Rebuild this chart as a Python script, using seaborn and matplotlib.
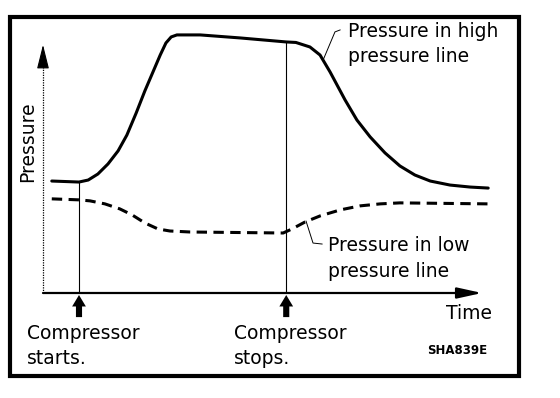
import matplotlib
matplotlib.use('Agg')
import matplotlib.pyplot as plt
import matplotlib.patches as patches
import pandas as pd
import seaborn as sns

# Curves (time 0..100 along the axis, pressure 0..100 up the axis)
high_time = [2.0, 8.2, 10.3, 12.5, 14.8, 17.1, 19.1, 21.2, 23.2, 26.7, 28.0, 29.2, 30.5,
             35.8, 44.9, 55.4, 57.6, 60.8, 63.1, 65.4, 68.8, 71.5, 74.5, 77.9,
             81.3, 84.7, 88.2, 92.7, 97.3, 101.4]
high_pressure = [44.6, 44.2, 45.0, 47.4, 51.4, 56.6, 62.9, 71.6, 80.5, 94.8, 99.6, 102.0, 102.8,
                 102.8, 101.6, 100.0, 99.8, 98.0, 94.8, 88.0, 76.9, 68.9, 62.2, 55.8,
                 50.6, 47.0, 44.6, 43.0, 42.2, 41.8]

low_time = [2.0, 8.2, 10.7, 14.1, 17.5, 20.3, 23.2, 26.2, 28.9, 33.5, 54.7, 56.7,
            59.7, 63.1, 67.7, 72.2, 76.8, 81.3, 101.4]
low_pressure = [37.5, 37.1, 36.7, 35.5, 33.5, 31.1, 27.9, 25.5, 24.7, 24.3, 23.9, 25.5,
                28.3, 30.7, 33.1, 34.7, 35.5, 35.9, 35.5]

# Compressor events
event_time = [8.2, 55.4]
event_labels = ['Compressor\nstarts.', 'Compressor\nstops.']
event_pressure = [44.2, 100.0]  # where the marker line meets the high curve

df_high = pd.DataFrame({'time': high_time, 'pressure': high_pressure})
df_low = pd.DataFrame({'time': low_time, 'pressure': low_pressure})

sns.set_style('white')
plt.rcParams['font.family'] = ['DejaVu Sans']
plt.rcParams['text.color'] = 'black'

fig = plt.figure(figsize=(5.6, 3.98), dpi=100)
ax = fig.add_axes([43 / 560, 105 / 398, 461 / 560, 263.6 / 398])

sns.lineplot(data=df_high, x='time', y='pressure', ax=ax, color='black',
             lw=2.2, legend=False, sort=False)
sns.lineplot(data=df_low, x='time', y='pressure', ax=ax, color='black',
             lw=2.2, legend=False, sort=False, linestyle=(0, (3.4, 2.1)))

ax.set_xlim(0, 105)
ax.set_ylim(0, 105)
ax.axis('off')

# axes with arrow heads
ax.plot([0, 0], [0, 93], color='black', lw=0.9, ls=(0, (1, 1)), clip_on=False)
ax.annotate('', xy=(0, 100), xytext=(0, 90), annotation_clip=False,
            arrowprops=dict(arrowstyle='-|>,head_length=1.0,head_width=0.25',
                            mutation_scale=15, color='black', lw=0.8))
ax.annotate('', xy=(100, 0), xytext=(0, 0), annotation_clip=False,
            arrowprops=dict(arrowstyle='-|>,head_length=1.0,head_width=0.22',
                            mutation_scale=15, color='black', lw=1.6,
                            shrinkA=0, shrinkB=0))

# compressor markers
ax.vlines(event_time, 0, event_pressure, color='black', lw=0.8)
for t, lab in zip(event_time, event_labels):
    ax.annotate('', xy=(t, -0.8), xytext=(t, -9.6), annotation_clip=False,
                arrowprops=dict(arrowstyle='simple,head_length=0.75,head_width=0.9,tail_width=0.4',
                                mutation_scale=11, color='black', lw=0,
                                shrinkA=0, shrinkB=0))
    ax.text(t - 11.8, -21.1, lab, fontsize=13.5, ha='left', va='center',
            linespacing=1.45, clip_on=False)

# curve labels with leader lines
ax.plot([63.8, 66.5, 67.7], [92.8, 104.0, 104.8], color='black', lw=0.7, clip_on=False)
ax.text(69.5, 99.2, 'Pressure in high\npressure line', fontsize=13.5,
        ha='left', va='center', linespacing=1.45, clip_on=False)
ax.plot([59.9, 61.5, 63.6], [28.7, 19.9, 19.5], color='black', lw=0.7, clip_on=False)
ax.text(64.9, 13.7, 'Pressure in low\npressure line', fontsize=13.5,
        ha='left', va='center', linespacing=1.45, clip_on=False)

ax.text(91.8, -8.0, 'Time', fontsize=13.5, ha='left', va='center', clip_on=False)
ax.text(-3.4, 60.2, 'Pressure', fontsize=13.5, rotation=90, ha='center',
        va='center', clip_on=False)
ax.text(87.5, -23.1, 'SHA839E', fontsize=8.5, fontweight='bold', ha='left',
        va='center', clip_on=False)

# frame around the whole figure
fig.patches.append(patches.Rectangle((10 / 560, 22 / 398), 509 / 560, 359 / 398,
                                     transform=fig.transFigure, fill=False,
                                     edgecolor='black', lw=3))

fig.savefig('out.png', dpi=100)
